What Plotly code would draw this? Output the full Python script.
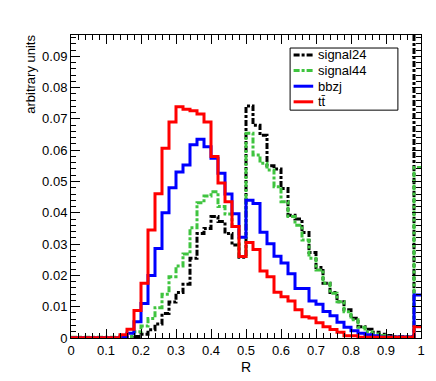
import plotly.graph_objects as go

# bin edges: 50 bins of width 0.02 on [0, 1]
edges = [round(i * 0.02, 2) for i in range(51)]

# bin contents, bin 0.00-0.02 first
signal24 = [0.0001, 0.0001, 0.0001, 0.0001, 0.0001, 0.0001, 0.0001, 0.0001, 0.0002, 0.0005,
            0.0012, 0.0026, 0.0045, 0.0078, 0.0115, 0.0145, 0.0172, 0.0255, 0.0334, 0.0350,
            0.0388, 0.0372, 0.0334, 0.0297, 0.0258, 0.0741, 0.0680, 0.0648, 0.0550, 0.0540,
            0.0478, 0.0392, 0.0380, 0.0337, 0.0273, 0.0225, 0.0175, 0.0145, 0.0116, 0.0090,
            0.0063, 0.0036, 0.0028, 0.0018, 0.0012, 0.0008, 0.0004, 0.0004, 0.0003, 0.1200]
signal44 = [0.0002, 0.0002, 0.0002, 0.0002, 0.0002, 0.0002, 0.0002, 0.0003, 0.0005, 0.0020,
            0.0038, 0.0062, 0.0097, 0.0140, 0.0196, 0.0230, 0.0268, 0.0352, 0.0432, 0.0454,
            0.0467, 0.0420, 0.0396, 0.0356, 0.0260, 0.0654, 0.0585, 0.0558, 0.0537, 0.0483,
            0.0435, 0.0388, 0.0360, 0.0313, 0.0255, 0.0217, 0.0175, 0.0143, 0.0116, 0.0084,
            0.0058, 0.0034, 0.0020, 0.0013, 0.0008, 0.0005, 0.0003, 0.0003, 0.0003, 0.0545]
bbzj = [0.0001, 0.0001, 0.0001, 0.0001, 0.0001, 0.0001, 0.0001, 0.0003, 0.0015, 0.0052,
        0.0110, 0.0200, 0.0286, 0.0400, 0.0480, 0.0530, 0.0553, 0.0617, 0.0635, 0.0611,
        0.0574, 0.0526, 0.0460, 0.0397, 0.0322, 0.0440, 0.0430, 0.0338, 0.0301, 0.0261,
        0.0240, 0.0205, 0.0158, 0.0158, 0.0118, 0.0108, 0.0085, 0.0071, 0.0050, 0.0034,
        0.0023, 0.0015, 0.0010, 0.0007, 0.0003, 0.0003, 0.0003, 0.0003, 0.0003, 0.0137]
ttbar = [0.0001, 0.0001, 0.0001, 0.0001, 0.0001, 0.0001, 0.0001, 0.0010, 0.0028, 0.0088,
         0.0175, 0.0345, 0.0461, 0.0606, 0.0690, 0.0739, 0.0731, 0.0726, 0.0716, 0.0690,
         0.0580, 0.0495, 0.0435, 0.0356, 0.0260, 0.0305, 0.0283, 0.0214, 0.0196, 0.0146,
         0.0132, 0.0118, 0.0090, 0.0068, 0.0064, 0.0049, 0.0036, 0.0027, 0.0018, 0.0007,
         0.0007, 0.0002, 0.0002, 0.0002, 0.0002, 0.0002, 0.0002, 0.0002, 0.0002, 0.0036]

names = ["signal24", "signal44", "bbzj", "tt\u0304"]
colors = ["black", "#3fc43f", "#0000ff", "#ff0000"]
dashes = ["6px,2px,3px,2px", "6px,2px,3px,2px", "solid", "solid"]
values = [signal24, signal44, bbzj, ttbar]

x_ticks = [0, 0.1, 0.2, 0.3, 0.4, 0.5, 0.6, 0.7, 0.8, 0.9, 1]
x_labels = ["0", "0.1", "0.2", "0.3", "0.4", "0.5", "0.6", "0.7", "0.8", "0.9", "1"]
y_ticks = [0, 0.01, 0.02, 0.03, 0.04, 0.05, 0.06, 0.07, 0.08, 0.09]
y_labels = ["0", "0.01", "0.02", "0.03", "0.04", "0.05", "0.06", "0.07", "0.08", "0.09"]

fig = go.Figure()
for name, vals, col, dash in zip(names, values, colors, dashes):
    fig.add_trace(go.Scatter(
        x=edges, y=vals + [vals[-1]], name=name, mode="lines",
        line=dict(shape="hv", color=col, width=3, dash=dash),
    ))

axis_common = dict(
    showgrid=False, zeroline=False, showline=True, linecolor="black", linewidth=1,
    mirror="allticks", ticks="inside", ticklen=9, tickcolor="black",
    tickfont=dict(size=13, color="black"),
)
fig.update_xaxes(
    range=[0, 1], tickvals=x_ticks, ticktext=x_labels, ticklabelstandoff=0,
    minor=dict(ticks="inside", ticklen=5, dtick=0.02, tickcolor="black", showgrid=False),
    **axis_common,
)
fig.update_yaxes(
    range=[0, 0.0968], tickvals=y_ticks, ticktext=y_labels,
    minor=dict(ticks="inside", ticklen=5, dtick=0.002, tickcolor="black", showgrid=False),
    **axis_common,
)
fig.add_annotation(
    text="R", xref="paper", yref="paper", x=0.5, y=-0.097,
    xanchor="center", yanchor="middle", showarrow=False,
    font=dict(size=14, color="black"),
)
fig.add_annotation(
    text="arbitrary units", textangle=-90, xref="paper", yref="paper",
    x=-0.116, y=1.007, xanchor="center", yanchor="top", showarrow=False,
    font=dict(size=13, color="black"),
)

# hand-drawn legend box, ROOT style
lx0, lx1, ly0, ly1 = 0.626, 0.934, 0.752, 0.957
fig.add_shape(type="rect", xref="paper", yref="paper", x0=lx0, x1=lx1, y0=ly0, y1=ly1,
              line=dict(color="black", width=1), fillcolor="white", layer="above")
for i, (name, col, dash) in enumerate(zip(names, colors, dashes)):
    yy = 0.934 - i * 0.0515
    fig.add_shape(type="line", xref="paper", yref="paper", x0=0.636, x1=0.692, y0=yy, y1=yy,
                  line=dict(color=col, width=3, dash=dash), layer="above")
    fig.add_annotation(text=name, xref="paper", yref="paper", x=0.700, y=yy,
                       xanchor="left", yanchor="middle", showarrow=False,
                       font=dict(size=13, color="black"))

# page body has an 8px margin, so the figure is drawn 8px smaller
fig.update_layout(
    width=428, height=373,
    margin=dict(l=63, r=15, t=27, b=43),
    plot_bgcolor="white", paper_bgcolor="white",
    font=dict(family="Liberation Sans, Arial, sans-serif", color="black"),
    showlegend=False,
)
fig.write_html("out.html")
